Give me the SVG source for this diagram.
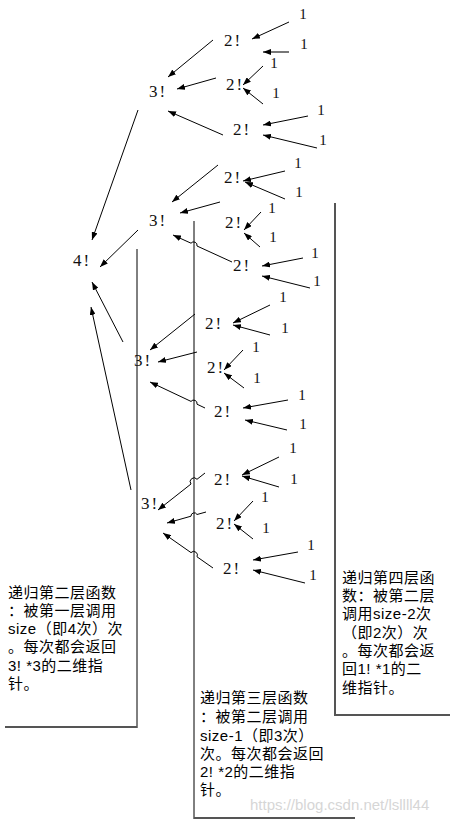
<svg xmlns="http://www.w3.org/2000/svg" width="450" height="821" viewBox="0 0 450 821">
<style>
.f{font-family:"Liberation Serif","DejaVu Serif",serif;font-size:17px;fill:#111;letter-spacing:2px;text-anchor:middle}
.o{font-family:"Liberation Serif","DejaVu Serif",serif;font-size:15px;fill:#111;text-anchor:middle}
.c{stroke:#000;stroke-width:1;fill:none;marker-end:url(#ah)}
.g{stroke:#777;stroke-width:2;fill:none;marker-end:url(#ah)}
.fr{stroke:#000;stroke-width:1;fill:none}
.sh{stroke:#555;stroke-width:2;fill:none}
.t{font-family:"Liberation Sans","Noto Sans CJK SC","Noto Sans CJK TC",sans-serif;font-size:15px;fill:#000;letter-spacing:0.5px}
.w{font-family:"Liberation Sans","Noto Sans",sans-serif;font-size:15px;fill:#d6d6d6}
</style>
<defs>
<marker id="ah" viewBox="0 0 8 6" refX="8" refY="3" markerWidth="8" markerHeight="6" markerUnits="userSpaceOnUse" orient="auto"><path d="M0,0 L8,3 L0,6 z" fill="#000"/></marker>
</defs>
<rect width="450" height="821" fill="#fff"/>

<g id="frames">
<path class="fr" d="M137,249 V728"/>
<path class="sh" d="M5,727 H137"/>
<path class="fr" d="M194,221 V819"/>
<path class="sh" d="M194,818 H355"/>
<path class="sh" d="M335,203 V716"/>
<path class="sh" d="M335,715 H450"/>
</g>

<g id="connectors">
<path class="c" d="M289,22 L252,39"/>
<path class="g" d="M289,52 L263,52"/>
<path class="c" d="M263,66 L243,85"/>
<path class="c" d="M263,104 L243,88"/>
<path class="c" d="M308,116 L263,125"/>
<path class="c" d="M317,148 L263,135"/>
<path class="c" d="M213,40 L168,77"/>
<path class="c" d="M216,78 L177,89"/>
<path class="c" d="M223,135 L168,111"/>

<path class="c" d="M285,171 L243,181"/>
<path class="c" d="M285,199 L245,182"/>
<path class="c" d="M261,212 L244,230"/>
<path class="c" d="M260,247 L244,233"/>
<path class="c" d="M303,258 L262,266"/>
<path class="c" d="M310,288 L262,276"/>
<path class="c" d="M218,165 L172,202"/>
<path class="c" d="M220,202 L180,213"/>
<path class="c" d="M232,262 L197,246 A3.4,3.4 0 0 0 191,243.2 L173,235"/>

<path class="c" d="M270,305 L233,323"/>
<path class="c" d="M270,335 L233,325"/>
<path class="c" d="M243,350 L224,370"/>
<path class="c" d="M244,388 L224,373"/>
<path class="c" d="M288,400 L243,408"/>
<path class="c" d="M287,430 L245,420"/>
<path class="c" d="M195,314 L150,350"/>
<path class="c" d="M197,352 L158,362"/>
<path class="c" d="M205,408 L197,404.2 A3.4,3.4 0 0 0 191,401.4 L150,382"/>

<path class="c" d="M279,457 L242,475"/>
<path class="c" d="M279,487 L242,476"/>
<path class="c" d="M253,501 L234,521"/>
<path class="c" d="M253,539 L234,524"/>
<path class="c" d="M298,552 L253,560"/>
<path class="c" d="M305,583 L253,570"/>
<path class="c" d="M205,473 L197,479.3 A3.8,3.8 0 0 0 191,484 L158,510"/>
<path class="c" d="M206,512 L197,514.5 A3.2,3.2 0 0 0 191,516.2 L167,523"/>
<path class="c" d="M213,568 L197,556.8 A3.7,3.7 0 0 0 191,552.6 L163,533"/>

<path class="c" d="M138,110 L92,240"/>
<path class="c" d="M138,230 L100,267"/>
<path class="c" d="M123,342 L92,282"/>
<path class="c" d="M131,490 L91,307"/>
</g>

<g id="root"><text class="f" x="82" y="266">4!</text></g>

<g id="A"><text class="f" x="158" y="97">3!</text></g>
<g id="A1"><text class="f" x="233" y="46">2!</text></g>
<g id="A2"><text class="f" x="235" y="90">2!</text></g>
<g id="A3"><text class="f" x="242" y="135">2!</text></g>
<g id="A1a"><text class="o" x="303" y="19">1</text></g>
<g id="A1b"><text class="o" x="304" y="49">1</text></g>
<g id="A2a"><text class="o" x="274" y="68">1</text></g>
<g id="A2b"><text class="o" x="276" y="98">1</text></g>
<g id="A3a"><text class="o" x="321" y="115">1</text></g>
<g id="A3b"><text class="o" x="323" y="145">1</text></g>

<g id="B"><text class="f" x="158" y="226">3!</text></g>
<g id="B1"><text class="f" x="233" y="183">2!</text></g>
<g id="B2"><text class="f" x="234" y="228">2!</text></g>
<g id="B3"><text class="f" x="242" y="271">2!</text></g>
<g id="B1a"><text class="o" x="298" y="168">1</text></g>
<g id="B1b"><text class="o" x="299" y="197">1</text></g>
<g id="B2a"><text class="o" x="272" y="213">1</text></g>
<g id="B2b"><text class="o" x="273" y="242">1</text></g>
<g id="B3a"><text class="o" x="315" y="258">1</text></g>
<g id="B3b"><text class="o" x="317" y="286">1</text></g>

<g id="C"><text class="f" x="143" y="366">3!</text></g>
<g id="C1"><text class="f" x="214" y="329">2!</text></g>
<g id="C2"><text class="f" x="216" y="373">2!</text></g>
<g id="C3"><text class="f" x="223" y="417">2!</text></g>
<g id="C1a"><text class="o" x="283" y="302">1</text></g>
<g id="C1b"><text class="o" x="285" y="333">1</text></g>
<g id="C2a"><text class="o" x="256" y="352">1</text></g>
<g id="C2b"><text class="o" x="257" y="383">1</text></g>
<g id="C3a"><text class="o" x="302" y="400">1</text></g>
<g id="C3b"><text class="o" x="303" y="429">1</text></g>

<g id="D"><text class="f" x="150" y="509">3!</text></g>
<g id="D1"><text class="f" x="223" y="485">2!</text></g>
<g id="D2"><text class="f" x="225" y="529">2!</text></g>
<g id="D3"><text class="f" x="232" y="574">2!</text></g>
<g id="D1a"><text class="o" x="293" y="453">1</text></g>
<g id="D1b"><text class="o" x="294" y="484">1</text></g>
<g id="D2a"><text class="o" x="265" y="502">1</text></g>
<g id="D2b"><text class="o" x="266" y="533">1</text></g>
<g id="D3a"><text class="o" x="311" y="550">1</text></g>
<g id="D3b"><text class="o" x="313" y="580">1</text></g>

<g id="note2">
<text class="t" x="8" y="598">递归第二层函数</text>
<text class="t" x="8" y="616">：被第一层调用</text>
<text class="t" x="8" y="634">size（即4次）次</text>
<text class="t" x="8" y="652">。每次都会返回</text>
<text class="t" x="8" y="671">3! *3的二维指</text>
<text class="t" x="8" y="689">针。</text>
</g>

<g id="note3">
<text class="t" x="200" y="703">递归第三层函数</text>
<text class="t" x="200" y="722">：被第二层调用</text>
<text class="t" x="200" y="741">size-1（即3次）</text>
<text class="t" x="200" y="759">次。每次都会返回</text>
<text class="t" x="200" y="777">2! *2的二维指</text>
<text class="t" x="200" y="795">针。</text>
</g>

<g id="note4">
<text class="t" x="342" y="583">递归第四层函</text>
<text class="t" x="342" y="601">数：被第二层</text>
<text class="t" x="342" y="619">调用size-2次</text>
<text class="t" x="342" y="638">（即2次）次</text>
<text class="t" x="342" y="656">。每次都会返</text>
<text class="t" x="342" y="674">回1! *1的二</text>
<text class="t" x="342" y="693">维指针。</text>
</g>

<g id="watermark"><text class="w" x="250" y="810">https://blog.csdn.net/lsllll44</text></g>
</svg>
